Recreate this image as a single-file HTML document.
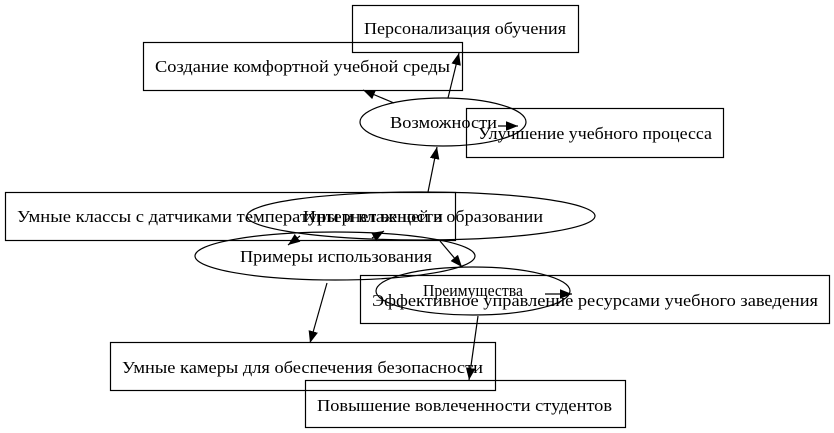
<!DOCTYPE html>
<html><head><meta charset="utf-8"><style>
html,body{margin:0;padding:0;background:#fff;}
svg{display:block;}
text{font-family:"Liberation Serif",serif;font-size:17px;fill:#000;}
</style></head><body>
<svg width="834" height="433" viewBox="0 0 834 433" xmlns="http://www.w3.org/2000/svg">
<defs>
<marker id="a" viewBox="0 0 10 10" refX="10" refY="5" markerWidth="12" markerHeight="12" markerUnits="userSpaceOnUse" orient="auto">
<path d="M0,1 L10,5 L0,9 Z" fill="#000"/></marker>
</defs>
<g fill="none" stroke="#000" stroke-width="1.2">
<rect x="352.5" y="5.5" width="226" height="47"/>
<rect x="143.5" y="42.5" width="319" height="48"/>
<rect x="466.5" y="108.5" width="257" height="49"/>
<rect x="5.5" y="192.5" width="450" height="48"/>
<rect x="360.5" y="275.5" width="469" height="48"/>
<rect x="110.5" y="342.5" width="385" height="48"/>
<rect x="305.5" y="380.5" width="320" height="47"/>
<ellipse cx="443" cy="122" rx="83" ry="24"/>
<ellipse cx="421" cy="216" rx="174" ry="24"/>
<ellipse cx="335" cy="256" rx="140" ry="24"/>
<ellipse cx="473" cy="291" rx="97" ry="24"/>
</g>
<g stroke="#000" stroke-width="1.2" marker-end="url(#a)">
<line x1="428" y1="192" x2="437" y2="147"/>
<line x1="394" y1="103" x2="363" y2="90"/>
<line x1="448" y1="98" x2="459" y2="53"/>
<line x1="498" y1="126" x2="518" y2="126"/>
<line x1="300" y1="236" x2="288" y2="245"/>
<line x1="372" y1="238" x2="384" y2="231"/>
<line x1="440" y1="241" x2="462" y2="267"/>
<line x1="327" y1="283" x2="310" y2="343"/>
<line x1="545" y1="294" x2="572" y2="294"/>
<line x1="478" y1="316" x2="469" y2="380"/>
</g>
<g>
<text x="364" y="34" textLength="202" lengthAdjust="spacingAndGlyphs">Персонализация обучения</text>
<text x="155" y="72" textLength="295" lengthAdjust="spacingAndGlyphs">Создание комфортной учебной среды</text>
<text x="390" y="128" textLength="107" lengthAdjust="spacingAndGlyphs">Возможности</text>
<text x="478" y="139" textLength="234" lengthAdjust="spacingAndGlyphs">Улучшение учебного процесса</text>
<text x="17" y="222" textLength="426" lengthAdjust="spacingAndGlyphs">Умные классы с датчиками температуры и влажности</text>
<text x="303" y="222" textLength="240" lengthAdjust="spacingAndGlyphs">Интернет вещей в образовании</text>
<text x="240" y="262" textLength="192" lengthAdjust="spacingAndGlyphs">Примеры использования</text>
<text x="423" y="296" textLength="100" lengthAdjust="spacingAndGlyphs">Преимущества</text>
<text x="372" y="306" textLength="446" lengthAdjust="spacingAndGlyphs">Эффективное управление ресурсами учебного заведения</text>
<text x="122" y="373" textLength="361" lengthAdjust="spacingAndGlyphs">Умные камеры для обеспечения безопасности</text>
<text x="317" y="411" textLength="295" lengthAdjust="spacingAndGlyphs">Повышение вовлеченности студентов</text>
</g>
</svg>
</body></html>
